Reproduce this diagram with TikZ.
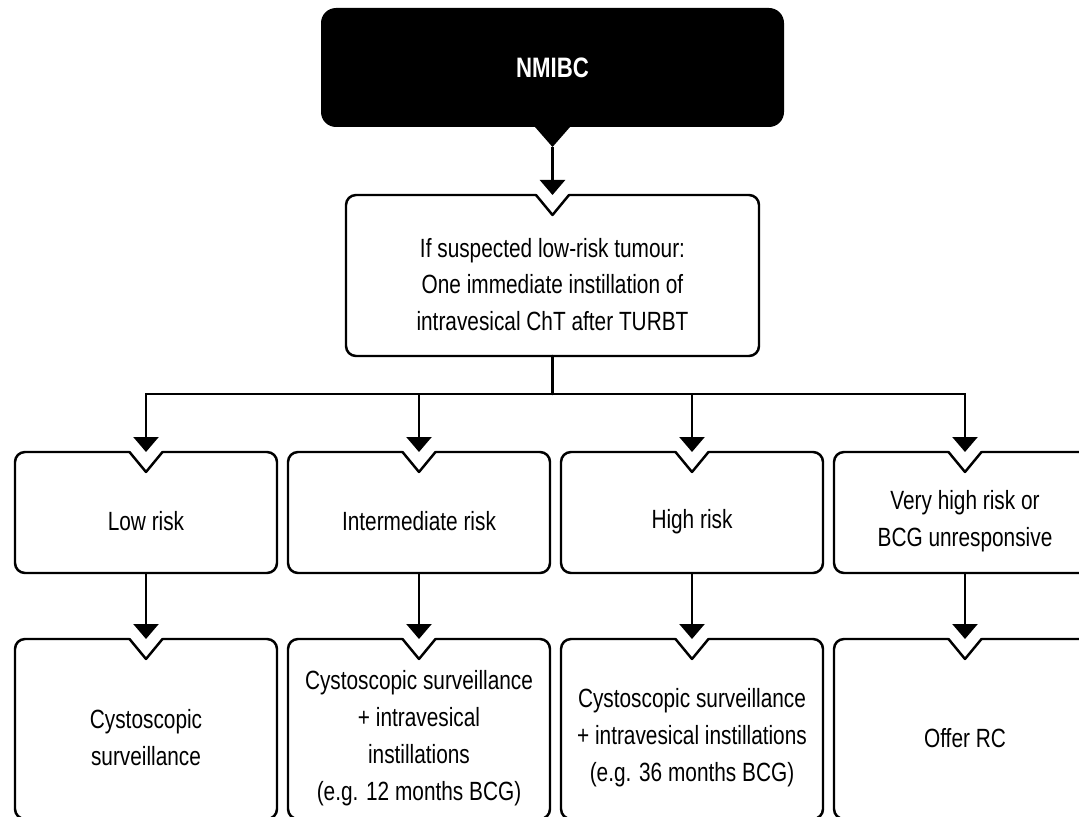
\documentclass[tikz,border=0pt]{standalone}
\usepackage{fontspec}
\setmainfont{Liberation Sans}[FakeStretch=0.79]
\usepackage{tikz}
\usetikzlibrary{arrows.meta,positioning}

\begin{document}
\begin{tikzpicture}[node distance=0.22cm, >={Triangle[width=0.5cm,length=0.3cm]},
	txt/.style={font=\fontsize{15}{21}\selectfont},
	headbox/.style={rectangle, rounded corners=0.3cm, fill=black, text=white, minimum width=9.26cm, minimum height=2.38cm, inner sep=0pt, outer sep=0pt, font=\fontsize{16}{20}\selectfont\bfseries},
	riskbox/.style={txt, rectangle, align=center, minimum width=5.24cm, minimum height=2.06cm, inner sep=0pt, outer sep=0pt},
	treatbox/.style={riskbox, minimum height=3.24cm},
	boxline/.style={line width=1.4pt, line join=round, line cap=round},
	pil/.style={->, line width=1.4pt}]
	 \useasboundingbox (0,0) rectangle (21.58,-16.34);
	 \node[headbox] (nmibc) at (11.05,-1.35) {NMIBC};
	 \fill (nmibc.south) ++(-0.35,0) -- ++(0.35,-0.4) -- ++(0.35,0.4) -- cycle;
	 \coordinate (tip) at ([yshift=-0.4cm]nmibc.south);
	 \node[riskbox, minimum width=8.26cm, minimum height=2.86cm, below=1.72cm of nmibc] (susp) {If suspected low-risk tumour:\\One immediate instillation of\\intravesical ChT after TURBT};
	 \coordinate[below=0.76cm of susp] (split);
	 % risk groups
	 \node[riskbox] (low) at (2.92,-10.43) {Low risk};
	 \node[riskbox, right=of low] (inter) {Intermediate risk};
	 \node[riskbox, right=of inter] (high) {High risk};
	 \node[riskbox, right=of high] (vhigh) {Very high risk or\\BCG unresponsive};
	 % treatments
	 \node[treatbox, below=1.68cm of low] (surv) {Cystoscopic\\surveillance};
	 \node[treatbox, below=1.68cm of inter] (instA) {Cystoscopic surveillance\\+ intravesical\\instillations\\(e.g. 12 months BCG)};
	 \node[treatbox, below=1.68cm of high] (instB) {Cystoscopic surveillance\\+ intravesical instillations\\(e.g. 36 months BCG)};
	 \node[treatbox, below=1.68cm of vhigh] (offer) {Offer RC};
	 % outlines with notch
	 \foreach \n in {susp,low,inter,high,vhigh,surv,instA,instB,offer} {
	  \draw[boxline] ([xshift=-0.33cm,yshift=0.36cm]\n.north) -- ([yshift=-0.04cm]\n.north) -- ([xshift=0.33cm,yshift=0.36cm]\n.north);
	  \draw[boxline, rounded corners=0.2cm] ([xshift=0.33cm,yshift=0.36cm]\n.north) -| (\n.south east) -| ([yshift=0.36cm]\n.north west) -- ([xshift=-0.33cm,yshift=0.36cm]\n.north);
	 }
	 \draw[pil] (tip) -- ([yshift=0.36cm]susp.north);
	 \draw[boxline] (susp.south) -- (split);
	 \foreach \n in {low,inter,high,vhigh}
	  \draw[pil] (split) -| ([yshift=0.36cm]\n.north);
	 \draw[pil] (low.south) -- ([yshift=0.36cm]surv.north);
	 \draw[pil] (inter.south) -- ([yshift=0.36cm]instA.north);
	 \draw[pil] (high.south) -- ([yshift=0.36cm]instB.north);
	 \draw[pil] (vhigh.south) -- ([yshift=0.36cm]offer.north);
	\end{tikzpicture}
\end{document}
